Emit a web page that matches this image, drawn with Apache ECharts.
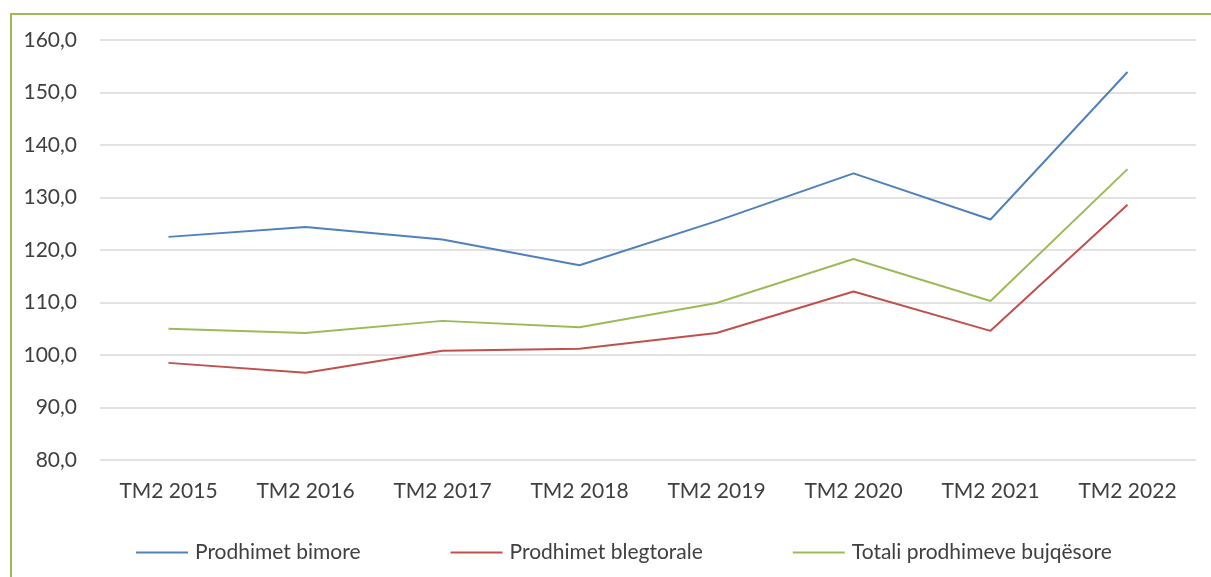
<!DOCTYPE html>
<html>
<head>
<meta charset="utf-8">
<script src="https://cdn.jsdelivr.net/npm/echarts@6/dist/echarts.min.js"></script>
<style>
html,body{margin:0;padding:0;background:#fff;overflow:hidden;}
#frame{position:absolute;left:10px;top:13px;width:1300px;height:700px;border:2px solid #9bbb59;box-sizing:border-box;}
#chart{position:absolute;left:0;top:0;width:1211px;height:577px;}
</style>
</head>
<body>
<div id="frame"></div>
<div id="chart"></div>
<script>
const categories = ['TM2 2015','TM2 2016','TM2 2017','TM2 2018','TM2 2019','TM2 2020','TM2 2021','TM2 2022'];
const seriesNames = ['Prodhimet bimore','Prodhimet blegtorale','Totali prodhimeve bujqësore'];
const bimore = [122.5, 124.4, 122.0, 117.1, 125.5, 134.6, 125.8, 153.9];
const blegtorale = [98.5, 96.6, 100.8, 101.2, 104.2, 112.1, 104.6, 128.6];
const totali = [105.0, 104.2, 106.5, 105.3, 109.9, 118.3, 110.3, 135.4];
const colors = ['#4f81bd','#c0504d','#9bbb59'];
const FONT = 'Lato';

const chart = echarts.init(document.getElementById('chart'), null, {renderer:'canvas'});
const mk = (name, data, color) => ({
  name, type:'line', data, symbol:'none', smooth:false,
  lineStyle:{color, width:2}, itemStyle:{color}
});
chart.setOption({
  animation:false,
  backgroundColor:'transparent',
  textStyle:{fontFamily:FONT},
  grid:{left:100, right:15, top:40, bottom:117, containLabel:false},
  xAxis:{
    type:'category', data:categories, boundaryGap:true,
    axisLine:{show:false}, axisTick:{show:false},
    axisLabel:{color:'#404040', fontSize:21, fontFamily:FONT, margin:21}
  },
  yAxis:{
    type:'value', min:80, max:160, interval:10,
    axisLine:{show:false}, axisTick:{show:false},
    splitLine:{lineStyle:{color:'#d9d9d9', width:1.5}},
    axisLabel:{color:'#404040', fontSize:21, fontFamily:FONT, margin:23,
      formatter:v=>v.toFixed(1).replace('.',',')}
  },
  legend:{
    bottom:14, left:136, itemWidth:52, itemHeight:2, itemGap:90,
    icon:'rect', padding:0,
    textStyle:{color:'#404040', fontSize:21, fontFamily:FONT, padding:[0,0,0,2]},
    data:seriesNames
  },
  series:[
    mk(seriesNames[0], bimore, colors[0]),
    mk(seriesNames[1], blegtorale, colors[1]),
    mk(seriesNames[2], totali, colors[2])
  ]
});
</script>
</body>
</html>
